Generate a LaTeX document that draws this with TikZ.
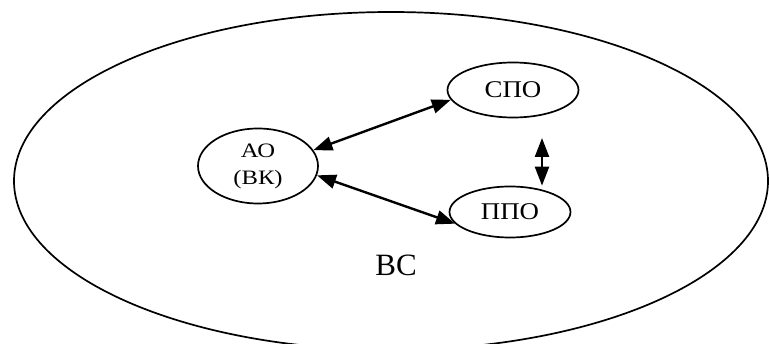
\documentclass[tikz,border=0pt]{standalone}
\usepackage{fontspec}
\usepackage{graphicx}
\setmainfont{Liberation Serif}
\usetikzlibrary{shapes.geometric,arrows.meta}
\begin{document}
\begin{tikzpicture}[x=1pt,y=-1pt,
  obj/.style={draw,ellipse,line width=1.7pt,inner sep=0pt,align=center},
  link/.style={line width=2.4pt,{Triangle[length=19pt,width=14pt]}-{Triangle[length=19pt,width=14pt]}}]
\useasboundingbox (0,0) rectangle (769,344);
\clip (0,0) rectangle (769,344);
\draw[line width=1.7pt] (391,181) ellipse [x radius=377, y radius=169];
\node[obj,minimum width=120pt,minimum height=75pt,font=\fontsize{20.5}{27}\selectfont] (ao) at (258,166) {\scalebox{1.2}[1]{АО}\\\scalebox{1.2}[1]{(ВК)}};
\node[obj,minimum width=131pt,minimum height=55pt,font=\fontsize{24}{26}\selectfont] (spo) at (513,90) {\scalebox{1.12}[1]{СПО}};
\node[obj,minimum width=121pt,minimum height=51pt,font=\fontsize{24}{26}\selectfont] (ppo) at (510,212) {\scalebox{1.12}[1]{ППО}};
\node[font=\fontsize{31}{34}\selectfont] (vs) at (396,265) {ВС};
\coordinate (up) at (542,138);
\draw[link] (ao.16) -- (spo.189);
\draw[link] (ao.-9) -- (ppo.192);
\draw[link] (up) -- (up |- ppo.north);
\end{tikzpicture}
\end{document}
